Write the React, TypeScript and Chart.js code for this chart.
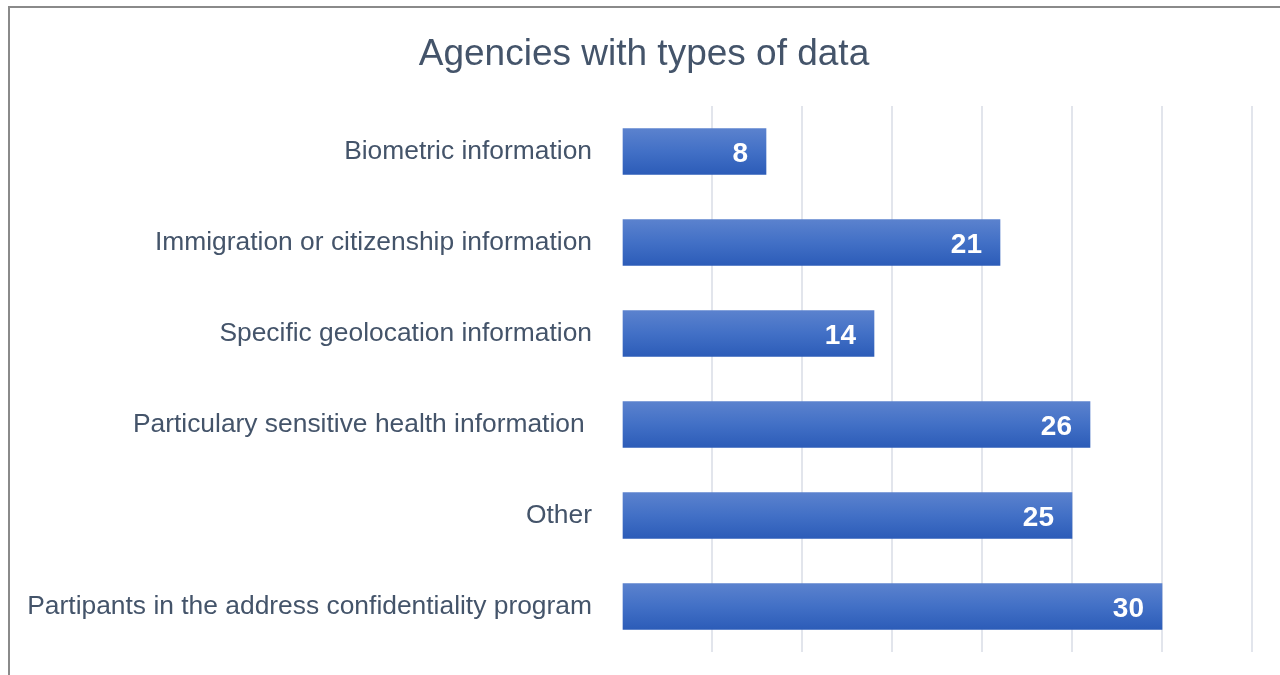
import React, { useEffect, useRef } from "react";
import { Chart, registerables } from "chart.js";

Chart.register(...registerables);

const categories = [
  "Biometric information",
  "Immigration or citizenship information",
  "Specific geolocation information",
  "Particulary sensitive health information ",
  "Other",
  "Partipants in the address confidentiality program",
];
const counts = [8, 21, 14, 26, 25, 30];
const titleText = "Agencies with types of data";
const xMin = 0;
const xMax = 35;
const xStep = 5;

const TEXT_COLOR = "#44546A";
const FONT = "'Liberation Sans', Arial, sans-serif";

const dataLabelPlugin = {
  id: "dataLabelsInside",
  afterDatasetsDraw(chart: any) {
    const ctx = chart.ctx;
    const meta = chart.getDatasetMeta(0);
    ctx.save();
    ctx.fillStyle = "#FFFFFF";
    ctx.font = `bold 28px ${FONT}`;
    ctx.textAlign = "right";
    ctx.textBaseline = "middle";
    meta.data.forEach((bar: any, i: number) => {
      ctx.fillText(String(counts[i]), bar.x - 18, bar.y + 3);
    });
    ctx.restore();
  },
};

export default function App() {
  const canvasRef = useRef<HTMLCanvasElement | null>(null);

  useEffect(() => {
    document.body.style.margin = "0";
    const canvas = canvasRef.current;
    if (!canvas) return;
    const chart = new Chart(canvas, {
      type: "bar",
      data: {
        labels: categories,
        datasets: [
          {
            data: counts,
            barThickness: 46,
            borderWidth: 0,
            backgroundColor: (c: any) => {
              const ch = c.chart;
              const ys = ch.scales && ch.scales.y;
              if (!ys || c.dataIndex === undefined) return "#4472C4";
              const cy = ys.getPixelForValue(c.dataIndex);
              if (!Number.isFinite(cy)) return "#4472C4";
              const top = cy - 23;
              const bottom = cy + 23;
              const g = ch.ctx.createLinearGradient(0, top, 0, bottom);
              g.addColorStop(0, "#5B82CE");
              g.addColorStop(0.5, "#4270C6");
              g.addColorStop(1, "#2C5CB8");
              return g;
            },
          },
        ],
      },
      options: {
        indexAxis: "y",
        animation: false,
        responsive: false,
        maintainAspectRatio: false,
        layout: { padding: { top: 0, right: 0, bottom: 23, left: 0 } },
        plugins: {
          legend: { display: false },
          tooltip: { enabled: false },
          title: {
            display: true,
            text: titleText,
            color: TEXT_COLOR,
            font: { family: FONT, size: 37, weight: "normal" },
            padding: { top: 33, bottom: 28.6 },
          },
        },
        scales: {
          x: {
            min: xMin,
            max: xMax,
            ticks: { display: false, stepSize: xStep },
            grid: {
              color: (c: any) =>
                c.tick && c.tick.value === 0 ? "rgba(0,0,0,0)" : "#E2E5EC",
              lineWidth: 2,
              drawTicks: false,
            },
            border: { display: false },
            afterFit: (s: any) => {
              s.height = 0;
              s.paddingLeft = 0;
              s.paddingRight = 0;
            },
          },
          y: {
            ticks: {
              color: TEXT_COLOR,
              font: { family: FONT, size: 26.4 },
              padding: 30,
            },
            grid: { display: false, drawTicks: false },
            border: { display: false },
            afterFit: (s: any) => {
              s.width = 622;
              s.paddingTop = 0;
              s.paddingBottom = 0;
            },
          },
          yRight: {
            type: "category",
            position: "right",
            labels: categories,
            ticks: { display: false, padding: 0 },
            grid: { display: false, drawTicks: false },
            border: { display: false },
            afterFit: (s: any) => {
              s.width = 36;
              s.paddingTop = 0;
              s.paddingBottom = 0;
            },
          },
        },
      },
      plugins: [dataLabelPlugin],
    } as any);
    return () => chart.destroy();
  }, []);

  return (
    <div
      style={{
        position: "fixed",
        left: 0,
        top: 0,
        width: 1280,
        height: 675,
        overflow: "hidden",
        background: "#FFFFFF",
      }}
    >
      <canvas
        ref={canvasRef}
        width={1288}
        height={675}
        style={{ position: "absolute", left: 0, top: 0, width: 1288, height: 675 }}
      />
      <div
        style={{
          position: "absolute",
          left: 8,
          top: 6,
          width: 1400,
          height: 800,
          borderTop: "2px solid #8A8A8A",
          borderLeft: "2px solid #8A8A8A",
          pointerEvents: "none",
        }}
      />
    </div>
  );
}
